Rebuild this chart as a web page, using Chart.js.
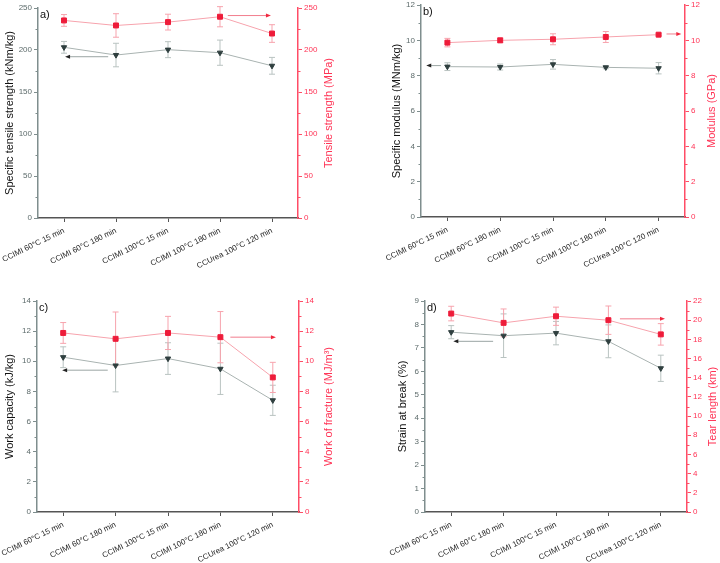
<!DOCTYPE html>
<html>
<head>
<meta charset="utf-8">
<title>Mechanical properties</title>
<script src="https://cdn.jsdelivr.net/npm/chart.js@4.4.0/dist/chart.umd.min.js"></script>
<style>
  body { margin: 0; background: #fff; }
  .figure { position: relative; width: 720px; height: 563px; }
  .panel { position: absolute; }
  .panel canvas { display: block; }
</style>
</head>
<body>
<div class="figure">
  <div class="panel" style="left:0;top:0"><canvas id="chart-a" width="360" height="281"></canvas></div>
  <div class="panel" style="left:360px;top:0"><canvas id="chart-b" width="360" height="281"></canvas></div>
  <div class="panel" style="left:0;top:280px"><canvas id="chart-c" width="360" height="283"></canvas></div>
  <div class="panel" style="left:360px;top:280px"><canvas id="chart-d" width="360" height="283"></canvas></div>
</div>
<script>
// Samples (x axis)
const categories = ['CCIMI 60°C 15 min', 'CCIMI 60°C 180 min', 'CCIMI 100°C 15 min', 'CCIMI 100°C 180 min', 'CCUrea 100°C 120 min'];

// a) tensile strength
const specStrength = [203.2, 194, 200.4, 196.8, 181.2];
const specStrengthErr = [7, 14, 9.5, 15, 10];
const tensStrength = [235.2, 229.2, 233.2, 239.6, 219.6];
const tensStrengthErr = [7, 14, 9.4, 12, 10.5];

// b) modulus
const specModulus = [8.51, 8.49, 8.64, 8.47, 8.42];
const specModulusErr = [0.22, 0.17, 0.27, 0.08, 0.32];
const modulus = [9.87, 10.0, 10.06, 10.19, 10.32];
const modulusErr = [0.24, 0.13, 0.31, 0.31, 0.05];

// c) work
const workCapacity = [10.27, 9.72, 10.18, 9.5, 7.41];
const workCapacityErr = [0.69, 1.75, 1.05, 1.7, 1.0];
const workFracture = [11.88, 11.49, 11.88, 11.6, 8.93];
const workFractureErr = [0.69, 1.78, 1.1, 1.7, 1.0];

// d) strain / tear length
const strain = [7.67, 7.52, 7.63, 7.28, 6.13];
const strainErr = [0.28, 0.93, 0.5, 0.7, 0.56];
const tearLength = [20.69, 19.72, 20.41, 20.0, 18.52];
const tearLengthErr = [0.76, 1.45, 0.95, 1.48, 1.12];

// Axis ranges: [max, major step, minor step]
const axisA = [250, 50, 25];
const axisB = [12, 2, 1];
const axisC = [14, 2, 1];
const axisDLeft = [9, 1, 0.5];
const axisDRight = [22, 2, 1];

// Arrows pointing to the axis of each series: [from index, to index, value]
const arrowsA = [[0.85, 0.02, 192], [3.15, 3.98, 241]];
const arrowsB = [[-0.12, -0.4, 8.57], [4.15, 4.43, 10.36]];
const arrowsC = [[0.85, -0.02, 9.41], [3.19, 4.06, 11.6]];
const arrowsD = [[0.8, 0.04, 7.28], [3.22, 4.08, 20.14]];

const GRAY_AXIS = '#7f8e8e';
const GRAY_TEXT = '#5d6b6b';
const RED_AXIS = '#ff4d66';
const RED_TEXT = '#ff3355';
const FONT = "'Liberation Sans', Arial, sans-serif";

// Error bars, minor ticks, titles, arrows
const panelExtras = {
  id: 'panelExtras',
  beforeDatasetsDraw(chart) {
    const ctx = chart.ctx;
    chart.data.datasets.forEach((ds, i) => {
      const meta = chart.getDatasetMeta(i);
      const yScale = chart.scales[ds.yAxisID];
      ctx.save();
      ctx.strokeStyle = ds.errorColor;
      ctx.lineWidth = 1;
      meta.data.forEach((pt, j) => {
        const yTop = yScale.getPixelForValue(ds.data[j] + ds.errors[j]);
        const yBot = yScale.getPixelForValue(ds.data[j] - ds.errors[j]);
        ctx.beginPath();
        ctx.moveTo(pt.x, yTop);
        ctx.lineTo(pt.x, yBot);
        ctx.moveTo(pt.x - 3, yTop);
        ctx.lineTo(pt.x + 3, yTop);
        ctx.moveTo(pt.x - 3, yBot);
        ctx.lineTo(pt.x + 3, yBot);
        ctx.stroke();
      });
      ctx.restore();
    });
  },
  afterDraw(chart, args, opts) {
    const ctx = chart.ctx;
    const area = chart.chartArea;
    const xScale = chart.scales.x;
    const yLeft = chart.scales.yLeft;
    const yRight = chart.scales.yRight;

    // minor ticks
    ctx.save();
    ctx.lineWidth = 1;
    [[yLeft, opts.leftMinor, GRAY_AXIS, -1], [yRight, opts.rightMinor, RED_AXIS, 1]].forEach(([scale, step, color, dir]) => {
      const edge = dir < 0 ? scale.right : scale.left;
      ctx.strokeStyle = color;
      for (let v = step; v < scale.max; v += step * 2) {
        const y = Math.round(scale.getPixelForValue(v)) + 0.5;
        ctx.beginPath();
        ctx.moveTo(edge, y);
        ctx.lineTo(edge + dir * 2.5, y);
        ctx.stroke();
      }
    });
    ctx.restore();

    // axis titles, both read bottom to top
    const midY = (area.top + area.bottom) / 2;
    ctx.save();
    ctx.font = '11px ' + FONT;
    ctx.textAlign = 'center';
    ctx.textBaseline = 'middle';
    ctx.translate(opts.leftTitleX, midY);
    ctx.rotate(-Math.PI / 2);
    ctx.fillStyle = '#111';
    ctx.fillText(opts.leftTitle, 0, 0);
    ctx.restore();
    ctx.save();
    ctx.font = '11px ' + FONT;
    ctx.textAlign = 'center';
    ctx.textBaseline = 'middle';
    ctx.translate(opts.rightTitleX, midY);
    ctx.rotate(-Math.PI / 2);
    ctx.fillStyle = RED_TEXT;
    ctx.fillText(opts.rightTitle, 0, 0);
    ctx.restore();

    // panel letter
    ctx.save();
    ctx.font = '11px ' + FONT;
    ctx.fillStyle = '#111';
    ctx.textBaseline = 'middle';
    ctx.fillText(opts.letter, area.left + 2, area.top + 7);
    ctx.restore();

    // arrows
    opts.arrows.forEach((a, k) => {
      const scale = k === 0 ? yLeft : yRight;
      const x1 = xScale.getPixelForValue(a[0]);
      const x2 = xScale.getPixelForValue(a[1]);
      const y = scale.getPixelForValue(a[2]);
      const dir = x2 > x1 ? 1 : -1;
      ctx.save();
      ctx.strokeStyle = k === 0 ? '#9aa5a3' : '#f27d8d';
      ctx.lineWidth = 1;
      ctx.beginPath();
      ctx.moveTo(x1, y);
      ctx.lineTo(x2 - dir * 4, y);
      ctx.stroke();
      ctx.fillStyle = k === 0 ? '#222' : '#f0283f';
      ctx.beginPath();
      ctx.moveTo(x2, y);
      ctx.lineTo(x2 - dir * 5, y - 2);
      ctx.lineTo(x2 - dir * 5, y + 2);
      ctx.closePath();
      ctx.fill();
      ctx.restore();
    });
  }
};

function makePanel(id, p) {
  const canvas = document.getElementById(id);
  const w = canvas.width;
  const h = canvas.height;
  new Chart(canvas, {
    type: 'line',
    data: {
      labels: categories,
      datasets: [
        {
          data: p.leftData,
          errors: p.leftErr,
          errorColor: '#b9c3c1',
          yAxisID: 'yLeft',
          borderColor: '#a9b3b1',
          borderWidth: 1,
          pointStyle: 'triangle',
          pointRotation: 180,
          pointRadius: 3.1,
          pointBackgroundColor: '#2f3f3f',
          pointBorderColor: '#2f3f3f',
          pointBorderWidth: 1
        },
        {
          data: p.rightData,
          errors: p.rightErr,
          errorColor: '#f7a3ad',
          yAxisID: 'yRight',
          borderColor: '#f7a3ad',
          borderWidth: 1,
          pointStyle: 'rect',
          pointRadius: 3.5,
          pointBackgroundColor: '#ee1c3a',
          pointBorderColor: '#ee1c3a',
          pointBorderWidth: 1
        }
      ]
    },
    options: {
      responsive: false,
      animation: false,
      layout: { padding: { top: p.area.top, left: 0, right: 0, bottom: 0 } },
      plugins: {
        legend: { display: false },
        tooltip: { enabled: false },
        panelExtras: {
          letter: p.letter,
          leftTitle: p.leftTitle,
          rightTitle: p.rightTitle,
          leftTitleX: p.leftTitleX,
          rightTitleX: p.rightTitleX,
          leftMinor: p.leftAxis[2],
          rightMinor: p.rightAxis[2],
          arrows: p.arrows
        }
      },
      scales: {
        x: {
          offset: true,
          grid: { display: true, drawOnChartArea: false, offset: false, tickLength: 4, color: '#555', lineWidth: 1 },
          border: { display: true, color: '#555', width: 1.5 },
          ticks: { minRotation: 26, maxRotation: 26, autoSkip: false, padding: 4, color: '#222', font: { family: FONT, size: 7.9 } },
          afterFit: scale => {
            scale.height = h - p.area.bottom;
            scale.paddingLeft = 0;
            scale.paddingRight = 0;
          }
        },
        yLeft: {
          position: 'left',
          min: 0,
          max: p.leftAxis[0],
          grid: { display: true, drawOnChartArea: false, tickLength: 4, color: GRAY_AXIS },
          border: { display: true, color: GRAY_AXIS, width: 1.5 },
          ticks: { stepSize: p.leftAxis[1], padding: 2, color: GRAY_TEXT, font: { family: FONT, size: 8 } },
          afterFit: scale => {
            scale.width = p.area.left;
            scale.paddingTop = 0;
            scale.paddingBottom = 0;
          }
        },
        yRight: {
          position: 'right',
          min: 0,
          max: p.rightAxis[0],
          grid: { display: true, drawOnChartArea: false, tickLength: 4, color: RED_AXIS },
          border: { display: true, color: RED_AXIS, width: 1.5 },
          ticks: { stepSize: p.rightAxis[1], padding: 2, color: RED_TEXT, font: { family: FONT, size: 8 } },
          afterFit: scale => {
            scale.width = w - p.area.right;
            scale.paddingTop = 0;
            scale.paddingBottom = 0;
          }
        }
      }
    },
    plugins: [panelExtras]
  });
}

document.addEventListener('DOMContentLoaded', () => {
  makePanel('chart-a', {
    letter: 'a)',
    area: { left: 38, right: 298, top: 8, bottom: 218 },
    leftData: specStrength, leftErr: specStrengthErr,
    rightData: tensStrength, rightErr: tensStrengthErr,
    leftAxis: axisA, rightAxis: axisA,
    leftTitle: 'Specific tensile strength (kNm/kg)', leftTitleX: 10,
    rightTitle: 'Tensile strength (MPa)', rightTitleX: 329,
    arrows: arrowsA
  });
  makePanel('chart-b', {
    letter: 'b)',
    area: { left: 61, right: 325, top: 5, bottom: 217 },
    leftData: specModulus, leftErr: specModulusErr,
    rightData: modulus, rightErr: modulusErr,
    leftAxis: axisB, rightAxis: axisB,
    leftTitle: 'Specific modulus (MNm/kg)', leftTitleX: 37,
    rightTitle: 'Modulus (GPa)', rightTitleX: 352,
    arrows: arrowsB
  });
  makePanel('chart-c', {
    letter: 'c)',
    area: { left: 37, right: 299, top: 21, bottom: 232 },
    leftData: workCapacity, leftErr: workCapacityErr,
    rightData: workFracture, rightErr: workFractureErr,
    leftAxis: axisC, rightAxis: axisC,
    leftTitle: 'Work capacity (kJ/kg)', leftTitleX: 10,
    rightTitle: 'Work of fracture (MJ/m³)', rightTitleX: 329,
    arrows: arrowsC
  });
  makePanel('chart-d', {
    letter: 'd)',
    area: { left: 65, right: 327, top: 21, bottom: 232 },
    leftData: strain, leftErr: strainErr,
    rightData: tearLength, rightErr: tearLengthErr,
    leftAxis: axisDLeft, rightAxis: axisDRight,
    leftTitle: 'Strain at break (%)', leftTitleX: 43,
    rightTitle: 'Tear length (km)', rightTitleX: 353,
    arrows: arrowsD
  });
});
</script>
</body>
</html>
